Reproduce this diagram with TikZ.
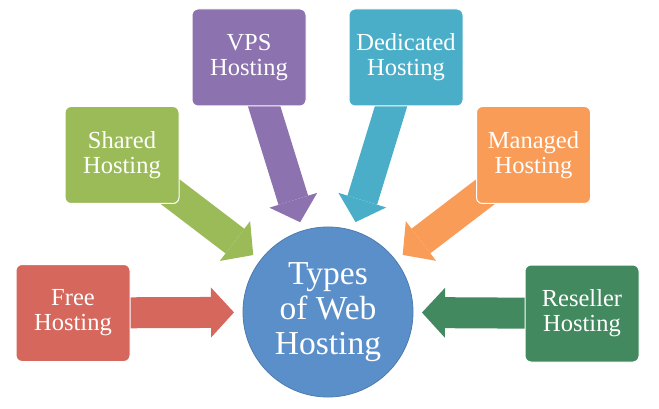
\documentclass[tikz,border=0pt]{standalone}
\usepackage{fontspec}
\setmainfont{Liberation Serif}
\usetikzlibrary{arrows.meta,backgrounds}
\definecolor{cfree}{HTML}{D5675D}
\definecolor{cshared}{HTML}{9BBB59}
\definecolor{cvps}{HTML}{8D72B0}
\definecolor{cded}{HTML}{4BAEC8}
\definecolor{cman}{HTML}{F89C58}
\definecolor{cres}{HTML}{43895F}
\definecolor{ccirc}{HTML}{5B8FC9}
\begin{document}
\begin{tikzpicture}[x=1pt,y=-1pt,
  box/.style={rectangle, rounded corners=6pt, draw=white, line width=1pt,
    minimum width=114pt, minimum height=97pt, text=white, align=center,
    font=\fontsize{24.5}{25}\selectfont, inner sep=0pt},
  hub/.style={circle, fill=ccirc, draw=ccirc!85!black, line width=0.8pt,
    minimum size=170pt, text=white, align=center,
    font=\fontsize{33.5}{35}\selectfont, inner sep=0pt},
  fat/.style={line width=31pt, shorten >=94pt,
    -{Triangle[length=23pt, width=50pt, line width=0pt]}}]
\useasboundingbox (0,0) rectangle (659,409);
\node[hub] (hub) at (328,312) {Types\\of Web\\Hosting};
\node[box, fill=cfree] (free) at (73,313) {Free\\Hosting};
\node[box, fill=cshared] (shared) at (122,155) {Shared\\Hosting};
\node[box, fill=cvps] (vps) at (249,57.5) {VPS\\Hosting};
\node[box, fill=cded] (ded) at (406,57.5) {Dedicated\\Hosting};
\node[box, fill=cman] (man) at (533.5,155) {Managed\\Hosting};
\node[box, fill=cres] (res) at (582,313.5) {Reseller\\Hosting};
\begin{scope}[on background layer]
\draw[fat, cfree] (free.center) -- (hub.center);
\draw[fat, cshared] (shared.center) -- (hub.center);
\draw[fat, cvps] (vps.center) -- (hub.center);
\draw[fat, cded] (ded.center) -- (hub.center);
\draw[fat, cman] (man.center) -- (hub.center);
\draw[fat, cres] (res.center) -- (hub.center);
\end{scope}
\end{tikzpicture}
\end{document}
